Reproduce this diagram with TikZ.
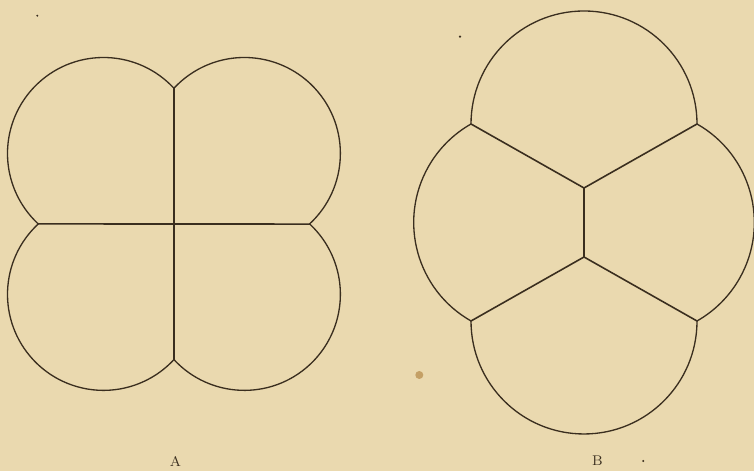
\documentclass[tikz,border=0pt]{standalone}
\usepackage{xcolor}
\usepackage{tikz}
\usetikzlibrary{calc}
\definecolor{paper}{HTML}{EAD9AF}
\definecolor{ink}{HTML}{3A2E1F}
\definecolor{stain}{HTML}{C4A066}
\tikzset{
    rim/.style={draw=ink, line width=0.75pt, line join=round},
    wall/.style={draw=ink, line width=0.9pt, line cap=round},
    figlabel/.style={font=\footnotesize, text=ink, inner sep=0pt},
    speck/.style={fill=ink, draw=none}
}

\begin{document}
\begin{tikzpicture}

% Paper
\fill[paper] (0,0) rectangle (15.08,9.42);
\useasboundingbox (0,0) rectangle (15.08,9.42);

% Figure A: cell centres and junctions
\coordinate (Ao) at (3.48,4.94);
\coordinate (Atl) at ($(Ao)+(-1.41,1.41)$);
\coordinate (Atr) at ($(Ao)+(1.41,1.41)$);
\coordinate (Abl) at ($(Ao)+(-1.41,-1.41)$);
\coordinate (Abr) at ($(Ao)+(1.41,-1.41)$);
\coordinate (At) at ($(Atl)+(42.8:1.92)$);
\coordinate (Al) at ($(Atl)+(227.2:1.92)$);
\coordinate (Ab) at ($(Abl)+(-42.8:1.92)$);
\coordinate (Ar) at ($(Abr)+(47.2:1.92)$);

% Figure A: outline and walls
\draw[rim] (At) arc[start angle=42.8, end angle=227.2, radius=1.92]
    arc[start angle=132.8, end angle=317.2, radius=1.92]
    arc[start angle=222.8, end angle=407.2, radius=1.92]
    arc[start angle=-47.2, end angle=137.2, radius=1.92] -- cycle;
\draw[wall] (At) -- (Ab);
\draw[wall] (Al) -- (Ar);

% Figure B: cell centres and junctions
\coordinate (Bo) at (11.68,4.97);
\coordinate (Bt) at ($(Bo)+(0,1.97)$);
\coordinate (Bb) at ($(Bo)+(0,-1.97)$);
\coordinate (Btl) at ($(Bt)+(-2.26,0)$);
\coordinate (Btr) at ($(Bt)+(2.26,0)$);
\coordinate (Bbl) at ($(Bb)+(-2.26,0)$);
\coordinate (Bbr) at ($(Bb)+(2.26,0)$);
\coordinate (Bu) at ($(Bo)+(0,0.69)$);
\coordinate (Bd) at ($(Bo)+(0,-0.69)$);

% Figure B: outline and walls
\draw[rim] (Btl) arc[start angle=180, end angle=0, radius=2.26]
    arc[start angle=60.38, end angle=-60.38, radius=2.266]
    arc[start angle=0, end angle=-180, radius=2.26]
    arc[start angle=240.38, end angle=119.62, radius=2.266] -- cycle;
\draw[wall] (Btl) -- (Bu) -- (Btr);
\draw[wall] (Bu) -- (Bd);
\draw[wall] (Bbl) -- (Bd) -- (Bbr);

% Labels
\node[figlabel] (labA) at (3.51,0.19) {A};
\node[figlabel] (labB) at (11.95,0.2) {B};

% Specks on the plate
\fill[speck] (0.746,9.106) circle (0.022);
\fill[speck] (9.2,8.686) circle (0.025);
\fill[speck] (12.866,0.2) circle (0.022);
\fill[stain] (8.386,1.92) circle (0.08);

\end{tikzpicture}
\end{document}
